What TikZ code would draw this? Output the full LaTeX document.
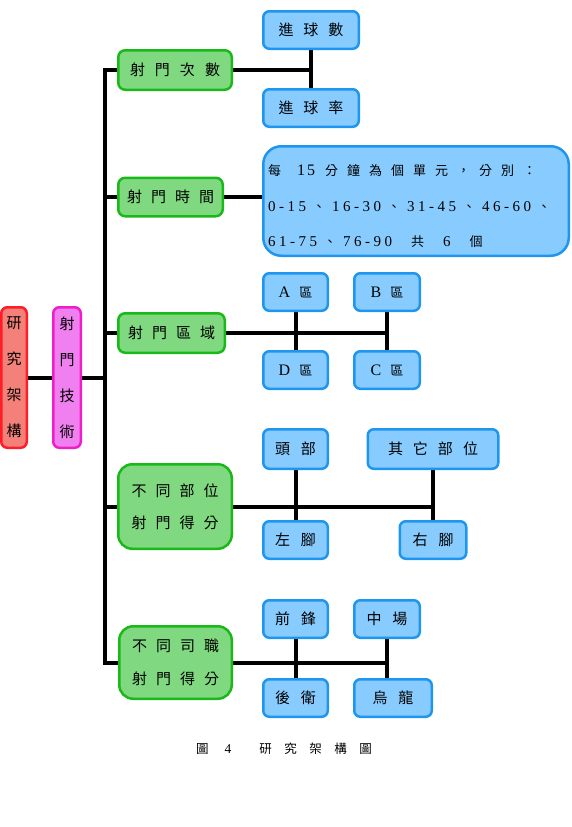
\documentclass[tikz,border=0pt]{standalone}
\usepackage{fontspec}
\setmainfont{Liberation Serif}
\newfontfamily\cjk{Noto Sans CJK TC}
\usetikzlibrary{backgrounds}
\newdimen\lsgap
\def\lsend{LSEND}
\def\ls#1{\lsA#1\lsend}
\def\lsA#1{\ifx#1\lsend\unkern\else#1\kern\lsgap\expandafter\lsA\fi}
\newcommand\lsg[2]{\lsgap=#1\relax\ls{#2}}
\newcommand\dn{{\kern3pt\cjk\fontsize{13}{15}\selectfont 、\kern3pt}}
\newcommand\sk{\hskip12pt\relax}
\newcommand\gong{{\cjk\fontsize{13}{15}\selectfont 共}}
\newcommand\geh{{\cjk\fontsize{13}{15}\selectfont 個}}
\newcommand\qu{{\cjk\fontsize{13}{15}\selectfont 區}}
\definecolor{redB}{RGB}{255,30,40}
\definecolor{redF}{RGB}{244,128,122}
\definecolor{magB}{RGB}{240,30,200}
\definecolor{magF}{RGB}{240,128,240}
\definecolor{grnB}{RGB}{25,185,25}
\definecolor{grnF}{RGB}{128,216,128}
\definecolor{bluB}{RGB}{30,150,240}
\definecolor{bluF}{RGB}{136,204,255}
\tikzset{
  box/.style={line width=2.5pt, inner sep=0pt, font=\cjk\fontsize{15}{18}\selectfont, text=black},
  redbox/.style={box, draw=redB, fill=redF, rounded corners=6pt, align=center, font=\cjk\fontsize{15}{36}\selectfont},
  magbox/.style={box, draw=magB, fill=magF, rounded corners=6pt, align=center, font=\cjk\fontsize{15}{36}\selectfont},
  grnbox/.style={box, draw=grnB, fill=grnF, rounded corners=7pt},
  grnbig/.style={box, draw=grnB, fill=grnF, rounded corners=14pt, align=center},
  blubox/.style={box, draw=bluB, fill=bluF, rounded corners=6pt},
  conn/.style={line width=4pt, black},
  ltxt/.style={anchor=base west, inner sep=0pt}
}
\begin{document}
\begin{tikzpicture}[x=1pt,y=-1pt]
\useasboundingbox (0,0) rectangle (571,827);
% left boxes
\node[redbox, minimum width=25.5pt, minimum height=140.5pt] (r) at (14,377.5) {研\\究\\架\\構};
\node[magbox, minimum width=27.5pt, minimum height=140.5pt] (t) at (67,377.5) {射\\門\\技\\術};
% green boxes
\node[grnbox, minimum width=113.5pt, minimum height=39.5pt] (g1) at (175,70) {\lsg{10pt}{射門次數}};
\node[grnbox, minimum width=104.5pt, minimum height=38.5pt] (g2) at (170.5,197) {\lsg{9pt}{射門時間}};
\node[grnbox, minimum width=106.5pt, minimum height=39.5pt] (g3) at (171.5,333) {\lsg{9pt}{射門區域}};
\node[grnbig, minimum width=113.5pt, minimum height=84.5pt, font=\cjk\fontsize{15}{32}\selectfont] (g4) at (175,506.5) {\lsg{9pt}{不同部位}\\\lsg{9pt}{射門得分}};
\node[grnbig, minimum width=112.5pt, minimum height=72.5pt, font=\cjk\fontsize{15}{33}\selectfont] (g5) at (175.5,662.5) {\lsg{9pt}{不同司職}\\\lsg{9pt}{射門得分}};
% blue boxes
\node[blubox, minimum width=95.5pt, minimum height=37.5pt] (b1) at (311,30) {\lsg{10pt}{進球數}};
\node[blubox, minimum width=95.5pt, minimum height=37.5pt] (b2) at (311,108) {\lsg{10pt}{進球率}};
\node[blubox, rounded corners=18pt, minimum width=305.5pt, minimum height=109.5pt] (b3) at (416,201) {};
\node[ltxt, font=\cjk\fontsize{13}{15}\selectfont] (l1) at (268,175) {每\hspace{16pt}{\rmfamily\fontsize{16}{18}\selectfont 1\kern2pt 5}\hspace{10pt}\lsg{9pt}{分鐘為個單元，分別：}};
\node[ltxt, font=\rmfamily\fontsize{15}{18}\selectfont] (l2) at (268,211) {\lsg{3.5pt}{0-15\dn16-30\dn31-45\dn46-60\dn}};
\node[ltxt, font=\rmfamily\fontsize{15}{18}\selectfont] (l3) at (268,246) {\lsg{3.5pt}{61-75\dn76-90\sk\gong\sk6\sk\geh}};
\node[blubox, minimum width=64.5pt, minimum height=37.5pt] (bA) at (295.5,292) {{\rmfamily\fontsize{16}{18}\selectfont A}\hspace{9pt}\qu};
\node[blubox, minimum width=65.5pt, minimum height=37.5pt] (bB) at (387,292) {{\rmfamily\fontsize{16}{18}\selectfont B}\hspace{9pt}\qu};
\node[blubox, minimum width=64.5pt, minimum height=37.5pt] (bD) at (295.5,370) {{\rmfamily\fontsize{16}{18}\selectfont D}\hspace{9pt}\qu};
\node[blubox, minimum width=65.5pt, minimum height=37.5pt] (bC) at (387,370) {{\rmfamily\fontsize{16}{18}\selectfont C}\hspace{9pt}\qu};
\node[blubox, minimum width=64.5pt, minimum height=39.5pt] (hd) at (295.5,449) {\lsg{11pt}{頭部}};
\node[blubox, minimum width=130.5pt, minimum height=39.5pt] (ot) at (433,449) {\lsg{10pt}{其它部位}};
\node[blubox, minimum width=64.5pt, minimum height=37.5pt] (lf) at (295.5,540) {\lsg{11pt}{左腳}};
\node[blubox, minimum width=66.5pt, minimum height=37.5pt] (rf) at (433,540) {\lsg{11pt}{右腳}};
\node[blubox, minimum width=64.5pt, minimum height=37.5pt] (fw) at (295.5,619) {\lsg{11pt}{前鋒}};
\node[blubox, minimum width=65.5pt, minimum height=37.5pt] (zc) at (387,619) {\lsg{11pt}{中場}};
\node[blubox, minimum width=64.5pt, minimum height=37.5pt] (bk) at (295.5,698) {\lsg{11pt}{後衛}};
\node[blubox, minimum width=77.5pt, minimum height=37.5pt] (wl) at (393,698) {\lsg{11pt}{烏龍}};
% caption
\node[font=\cjk\fontsize{12.5}{14}\selectfont] (cap) at (284,749) {圖\hspace{16pt}{\rmfamily\fontsize{13.5}{15}\selectfont 4}\hspace{28pt}\lsg{12.5pt}{研究架構圖}};
% connectors
\coordinate (s1) at (105,70);
\coordinate (st) at (105,378);
\coordinate (s2) at (105,197);
\coordinate (s3) at (105,333);
\coordinate (s4) at (105,507);
\coordinate (s5) at (105,663);
\begin{scope}[on background layer]
\draw[conn] (g1.west) -- (s1) -- (s5) -- (g5.west |- s5);
\draw[conn] (s2) -- (g2.west |- s2);
\draw[conn] (s3) -- (g3.west |- s3);
\draw[conn] (s4) -- (g4.west |- s4);
\draw[conn] (r.east |- st) -- (t.west |- st);
\draw[conn] (t.east |- st) -- (st);
\draw[conn] (g1.east) -- (b1.south |- g1.east);
\draw[conn] (b1.south) -- (b2.north);
\draw[conn] (g2.east |- s2) -- (b3.west |- s2);
\draw[conn] (g3.east |- s3) -- (bB.south |- s3);
\draw[conn] (bA.south) -- (bD.north);
\draw[conn] (bB.south) -- (bC.north);
\draw[conn] (g4.east |- s4) -- (ot.south |- s4);
\draw[conn] (hd.south) -- (lf.north);
\draw[conn] (ot.south) -- (rf.north);
\draw[conn] (g5.east |- s5) -- (zc.south |- s5);
\draw[conn] (fw.south) -- (bk.north);
\draw[conn] (zc.south) -- (zc.south |- wl.north);
\end{scope}
\end{tikzpicture}
\end{document}
